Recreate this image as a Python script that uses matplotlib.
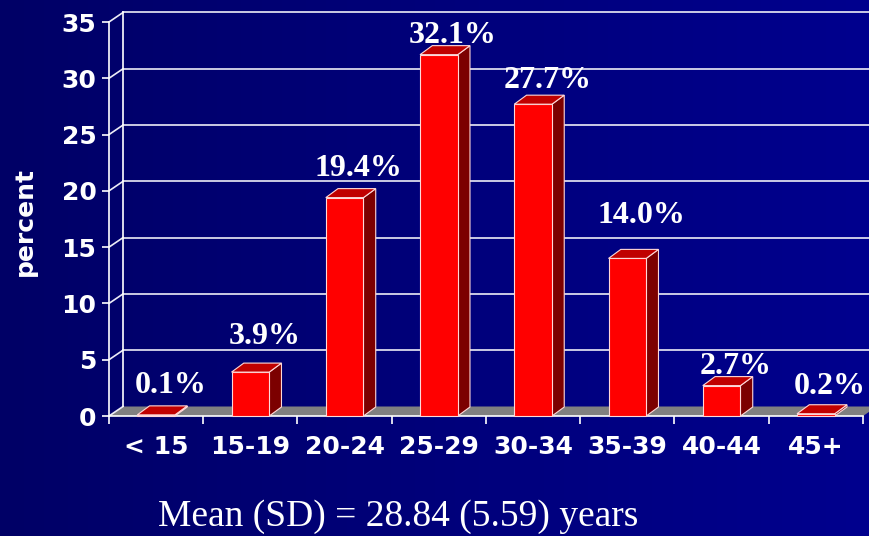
import numpy as np
import matplotlib.pyplot as plt
from matplotlib.colors import LinearSegmentedColormap
from matplotlib.patches import Polygon

age_groups = ['< 15', '15-19', '20-24', '25-29', '30-34', '35-39', '40-44', '45+']
percent = [0.1, 3.9, 19.4, 32.1, 27.7, 14.0, 2.7, 0.2]
y_ticks = [0, 5, 10, 15, 20, 25, 30, 35]
# how far each value label sits above its bar (points)
label_lift = [9, 14, 9, 2, 5, 19, 2, 8]

# fake 3d depth in data units: floor/back wall, and bar depth
DX, DY = 0.1485, 0.844
BDX, BDY = 0.13, 0.8
HALF_W = 0.2

fig = plt.figure(figsize=(8.7, 5.36), dpi=100)

# blue gradient background
bg = fig.add_axes([0, 0, 1, 1], zorder=0)
cmap = LinearSegmentedColormap.from_list('bg', ['#000066', '#00008e'])
bg.imshow(np.linspace(0, 1, 256).reshape(1, -1), aspect='auto', cmap=cmap,
          extent=[0, 1, 0, 1])
bg.axis('off')

ax = fig.add_axes([109 / 870, 120 / 536, 754 / 870, 394 / 536], zorder=1)
ax.patch.set_visible(False)
ax.set_xlim(-0.5, 7.5)
ax.set_ylim(0, 35)

grid_col = '#ececf6'
x0, x1 = -0.5, 7.5

# floor
ax.add_patch(Polygon([(x0, 0), (x1, 0), (x1 + DX, DY), (x0 + DX, DY)],
                     closed=True, facecolor='#808080', edgecolor='none',
                     clip_on=False, zorder=1))

# back wall gridlines and side wall diagonals
for v in y_ticks:
    if v > 0:
        ax.plot([x0 + DX, x1 + DX + 1], [v + DY, v + DY], color=grid_col,
                lw=1.2, clip_on=False, zorder=1)
    ax.plot([x0, x0 + DX], [v, v + DY], color=grid_col, lw=1.2,
            clip_on=False, zorder=1)
ax.plot([x0 + DX, x0 + DX], [DY, 35 + DY], color='white', lw=1.2,
        clip_on=False, zorder=1)

# columns
edge = '#ffd8d8'
for i, v in enumerate(percent):
    l, r = i - HALF_W, i + HALF_W
    front = [(l, 0), (r, 0), (r, v), (l, v)]
    top = [(l, v), (r, v), (r + BDX, v + BDY), (l + BDX, v + BDY)]
    side = [(r, 0), (r + BDX, BDY), (r + BDX, v + BDY), (r, v)]
    for pts, col in ((side, '#7c0000'), (front, '#ff0000'), (top, '#c00000')):
        ax.add_patch(Polygon(pts, closed=True, facecolor=col, edgecolor=edge,
                             lw=0.8, clip_on=False, zorder=3))
    ax.annotate(f'{v:.1f}%', (i + 0.15, v + BDY), xytext=(0, label_lift[i]),
                textcoords='offset points', ha='center', va='baseline',
                fontsize=23, fontweight='bold', family='Liberation Serif',
                color='white', zorder=4)

for s in ('top', 'right'):
    ax.spines[s].set_visible(False)
for s in ('left', 'bottom'):
    ax.spines[s].set_color('white')
    ax.spines[s].set_linewidth(1.2)
    ax.spines[s].set_zorder(2)

ax.set_yticks(y_ticks)
ax.set_yticklabels([str(t) for t in y_ticks], fontsize=18, fontweight='bold')
ax.tick_params(axis='y', colors='white', length=5, width=1.2, pad=4)

ax.set_xticks(range(len(age_groups)))
ax.set_xticklabels(age_groups, fontsize=18, fontweight='bold')
ax.set_xticks(np.arange(-0.5, len(age_groups)), minor=True)
ax.tick_params(axis='x', which='major', length=0, pad=14, colors='white')
ax.tick_params(axis='x', which='minor', length=6, width=1.2, colors='white')

fig.text(25 / 870, 1 - 221 / 536, 'percent', rotation=90, ha='center',
         va='center', fontsize=18, fontweight='bold', color='white')

fig.text(398 / 870, 1 - 526 / 536, 'Mean (SD) = 28.84 (5.59) years',
         ha='center', va='baseline', fontsize=27, family='Liberation Serif',
         color='white')

fig.savefig('out.png', dpi=100)
